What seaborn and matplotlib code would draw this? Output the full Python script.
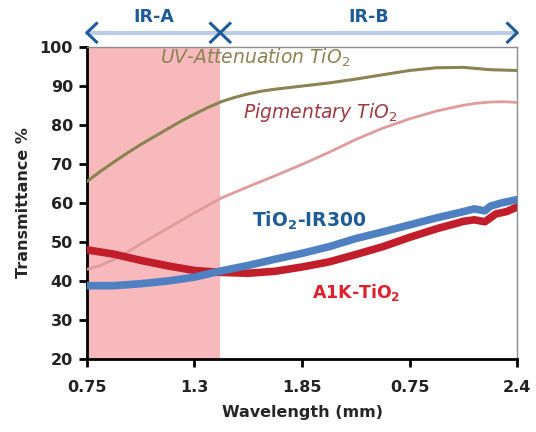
import matplotlib
matplotlib.use("Agg")
import matplotlib.pyplot as plt
import matplotlib.transforms as mtransforms
import seaborn as sns

# ---- data (x in tick-position units: 0..4) ----
tick_pos = [0, 1, 2, 3, 4]
tick_labels = ["0.75", "1.3", "1.85", "0.75", "2.4"]

x_uv = [0, 0.125, 0.25, 0.375, 0.5, 0.625, 0.75, 0.875, 1.0, 1.125, 1.25, 1.375, 1.5, 1.625, 1.75,
        2.0, 2.25, 2.5, 2.75, 3.0, 3.25, 3.5, 3.75, 4.0]
uv_att = [65.5, 68.1, 70.5, 72.8, 75.0, 77.0, 79.0, 81.0, 82.8, 84.5, 86.0, 87.1, 88.0, 88.7, 89.2,
          90.0, 90.8, 91.8, 92.9, 94.0, 94.7, 94.8, 94.2, 94.0]

x_pig = [0, 0.125, 0.25, 0.375, 0.5, 0.75, 1.0, 1.25, 1.5, 1.75, 2.0, 2.25, 2.5, 2.75, 3.0, 3.25, 3.5, 3.625, 3.75, 3.875, 4.0]
pigment = [43.0, 44.0, 45.5, 47.4, 49.5, 53.5, 57.5, 61.3, 64.2, 67.0, 69.9, 73.0, 76.3, 79.2, 81.6, 83.6, 85.1, 85.6, 85.9, 86.0, 85.8]

x_ir = [0, 0.25, 0.5, 0.75, 1.0, 1.25, 1.5, 1.75, 2.0, 2.25, 2.5, 2.75, 3.0, 3.25, 3.5, 3.6, 3.7, 3.75, 3.85, 4.0]
ir300 = [38.8, 38.8, 39.3, 40.0, 41.0, 42.6, 44.0, 45.6, 47.1, 48.8, 50.9, 52.6, 54.4, 56.2, 57.8, 58.5, 58.0, 59.2, 60.0, 60.9]

x_a1k = [0, 0.25, 0.5, 0.75, 1.0, 1.25, 1.5, 1.75, 2.0, 2.25, 2.5, 2.75, 3.0, 3.25, 3.5, 3.6, 3.7, 3.8, 3.9, 4.0]
a1k = [48.0, 46.9, 45.3, 43.9, 42.7, 42.2, 42.0, 42.5, 43.6, 44.9, 46.8, 48.8, 51.2, 53.4, 55.3, 55.7, 55.2, 57.2, 57.8, 59.0]

ir_a_end = 1.24  # end of IR-A band (tick units)

sns.set_theme(style="white")
plt.rcParams["font.family"] = ["DejaVu Sans"]

fig = plt.figure(figsize=(5.36, 4.32), dpi=100)
ax = fig.add_axes([0.162, 0.169, 0.803, 0.722])

ax.axvspan(0, ir_a_end, color="#f8b9bd", lw=0, zorder=0)

sns.lineplot(x=x_uv, y=uv_att, ax=ax, color="#8a8352", lw=2.2, zorder=3)
sns.lineplot(x=x_pig, y=pigment, ax=ax, color="#e09c9c", lw=2.0, zorder=3)
sns.lineplot(x=x_a1k, y=a1k, ax=ax, color="#c11d2b", lw=5.5, zorder=4)
sns.lineplot(x=x_ir, y=ir300, ax=ax, color="#4f81c2", lw=5.5, zorder=5)

ax.set_xlim(0, 4)
ax.set_ylim(20, 100)
ax.set_xticks(tick_pos)
ax.set_xticklabels(tick_labels)
ax.set_yticks(range(20, 101, 10))
for lab in ax.get_xticklabels() + ax.get_yticklabels():
    lab.set_fontweight("bold")
    lab.set_fontsize(11.5)
    lab.set_color("#222222")

ax.tick_params(axis="both", direction="out", length=6, width=2, color="black", pad=4)
ax.tick_params(axis="x", pad=9)
ax.tick_params(left=True, bottom=True)

for s in ["left", "bottom"]:
    ax.spines[s].set_color("black")
    ax.spines[s].set_linewidth(2)
for s in ["top", "right"]:
    ax.spines[s].set_color("#8c8c8c")
    ax.spines[s].set_linewidth(1)

ax.set_ylabel("Transmittance %", fontsize=11.5, fontweight="bold", labelpad=6)
ax.set_xlabel("Wavelength (mm)", fontsize=11.5, fontweight="bold", labelpad=7)

# curve labels
ax.text(1.56, 97.3, "UV-Attenuation TiO$_2$", color="#8a8352", fontsize=13.5, style="italic", ha="center", va="center")
ax.text(2.17, 83.2, "Pigmentary TiO$_2$", color="#9e3a40", fontsize=13.5, style="italic", ha="center", va="center")
ax.text(2.07, 55.4, r"TiO$_\mathbf{2}$-IR300", color="#1f5c97", fontsize=13.5, fontweight="bold", ha="center", va="center")
ax.text(2.5, 37.0, r"A1K-TiO$_\mathbf{2}$", color="#e0202c", fontsize=12.5, fontweight="bold", ha="center", va="center")

# IR-A / IR-B range arrows above the plot
trans = mtransforms.blended_transform_factory(ax.transData, ax.transAxes)
ya = 1.046
dx, dy = 0.1, 0.033
ax.plot([0, 4], [ya, ya], transform=trans, color="#b9cde6", lw=3, clip_on=False, zorder=6)
arrow_kw = dict(transform=trans, color="#1f5c97", lw=2.2, clip_on=False, zorder=7, solid_capstyle="butt")
ax.plot([dx, 0, dx], [ya + dy, ya, ya - dy], **arrow_kw)
ax.plot([4 - dx, 4, 4 - dx], [ya + dy, ya, ya - dy], **arrow_kw)
ax.plot([ir_a_end - dx, ir_a_end + dx], [ya + dy, ya - dy], **arrow_kw)
ax.plot([ir_a_end - dx, ir_a_end + dx], [ya - dy, ya + dy], **arrow_kw)
ax.text(ir_a_end / 2, 1.095, "IR-A", transform=trans, color="#1f5c97", fontsize=12.5, fontweight="bold", ha="center", va="center")
ax.text((ir_a_end + 4) / 2, 1.095, "IR-B", transform=trans, color="#1f5c97", fontsize=12.5, fontweight="bold", ha="center", va="center")

fig.savefig("out.png", dpi=100)
